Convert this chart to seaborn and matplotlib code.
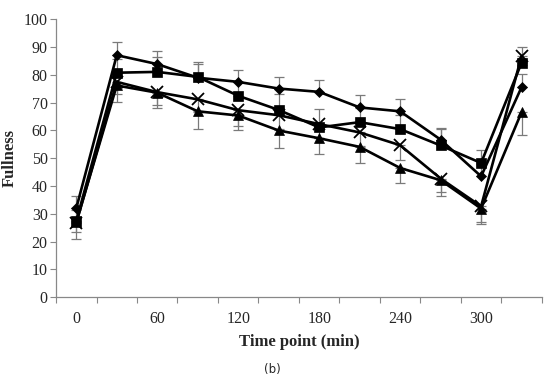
import matplotlib
matplotlib.use("Agg")
import matplotlib.pyplot as plt
import seaborn as sns
import pandas as pd

time_min = [0, 30, 60, 90, 120, 150, 180, 210, 240, 270, 300, 330]
tick_labels = ["0", "60", "120", "180", "240", "300"]
tick_positions = [0, 60, 120, 180, 240, 300]

diamond = [32.0, 87.1, 83.9, 79.0, 77.5, 75.1, 73.9, 68.3, 66.9, 56.7, 43.5, 75.6]
square = [27.4, 80.8, 81.1, 79.3, 72.5, 67.4, 61.1, 63.0, 60.5, 54.6, 48.3, 84.4]
cross = [26.7, 77.5, 73.8, 71.2, 67.3, 65.5, 62.3, 59.3, 54.7, 42.7, 32.7, 86.8]
triangle = [27.0, 76.2, 73.6, 66.9, 65.4, 60.0, 57.2, 54.1, 46.5, 42.1, 31.9, 66.6]

diamond_err_up = [4.5, 4.9, 4.6, 5.5, 4.1, 4.3, 4.1, 4.3, 4.3, 4.3, 4.5, 4.9]
square_err_up = [4.0, 5.0, 5.3, 4.5, 5.0, 5.9, 6.6, 5.0, 5.0, 5.8, 4.8, 5.6]
cross_err_down = [3.2, 4.5, 4.5, 4.5, 5.8, 5.0, 5.0, 5.0, 5.2, 5.0, 5.7, 3.3]
triangle_err_down = [6.0, 5.9, 5.6, 6.2, 5.4, 6.3, 5.5, 5.9, 5.5, 5.6, 5.6, 8.1]

sns.set_style("white")
plt.rcParams["font.family"] = ["Liberation Serif", "DejaVu Serif"]

fig = plt.figure(figsize=(5.44, 3.80), dpi=100)
ax = fig.add_axes([0.103, 0.218, 0.893, 0.731])

series = [
    ("diamond", diamond, diamond_err_up, "up", "D", 5.5),
    ("square", square, square_err_up, "up", "s", 7),
    ("cross", cross, cross_err_down, "down", "x", 8.5),
    ("triangle", triangle, triangle_err_down, "down", "^", 7),
]

# error bars first (behind lines)
for name, vals, err, direction, mk, ms in series:
    zeros = [0] * len(err)
    yerr = [zeros, err] if direction == "up" else [err, zeros]
    ax.errorbar(time_min, vals, yerr=yerr, fmt="none", ecolor="#7a7a7a",
                elinewidth=0.9, capsize=3.5, capthick=0.9, zorder=1)

for name, vals, err, direction, mk, ms in series:
    df = pd.DataFrame({"time": time_min, "value": vals})
    sns.lineplot(data=df, x="time", y="value", ax=ax, color="black",
                 linewidth=1.9, marker=mk, markersize=ms,
                 markeredgecolor="black", markerfacecolor="black",
                 markeredgewidth=1.3 if mk == "x" else 0.5, zorder=3)

ax.set_xlim(-15, 345)
ax.set_ylim(0, 100)
ax.set_yticks(range(0, 101, 10))
ax.set_xticks([t - 15 for t in time_min] + [345])
ax.set_xticklabels([])
ax.set_xticks(tick_positions, minor=True)
ax.set_xticklabels(tick_labels, minor=True)
ax.tick_params(axis="x", which="major", direction="out", length=4, width=0.8,
               color="#888888", bottom=True)
ax.tick_params(axis="x", which="minor", length=0, labelsize=11.5, pad=10)
ax.tick_params(axis="y", direction="out", length=4, width=0.8,
               color="#888888", left=True, labelsize=11.5, pad=2)

for s in ["top", "right"]:
    ax.spines[s].set_visible(False)
for s in ["left", "bottom"]:
    ax.spines[s].set_color("#888888")
    ax.spines[s].set_linewidth(0.9)

ax.set_xlabel("Time point (min)", fontsize=12, fontweight="bold", labelpad=5)
ax.set_ylabel("Fullness", fontsize=12, fontweight="bold", labelpad=4)
ax.grid(False)

fig.text(0.5, 0.027, "(b)", ha="center", va="center", fontsize=8.5,
         family=["DejaVu Sans"])

fig.savefig("out.png", dpi=100)
